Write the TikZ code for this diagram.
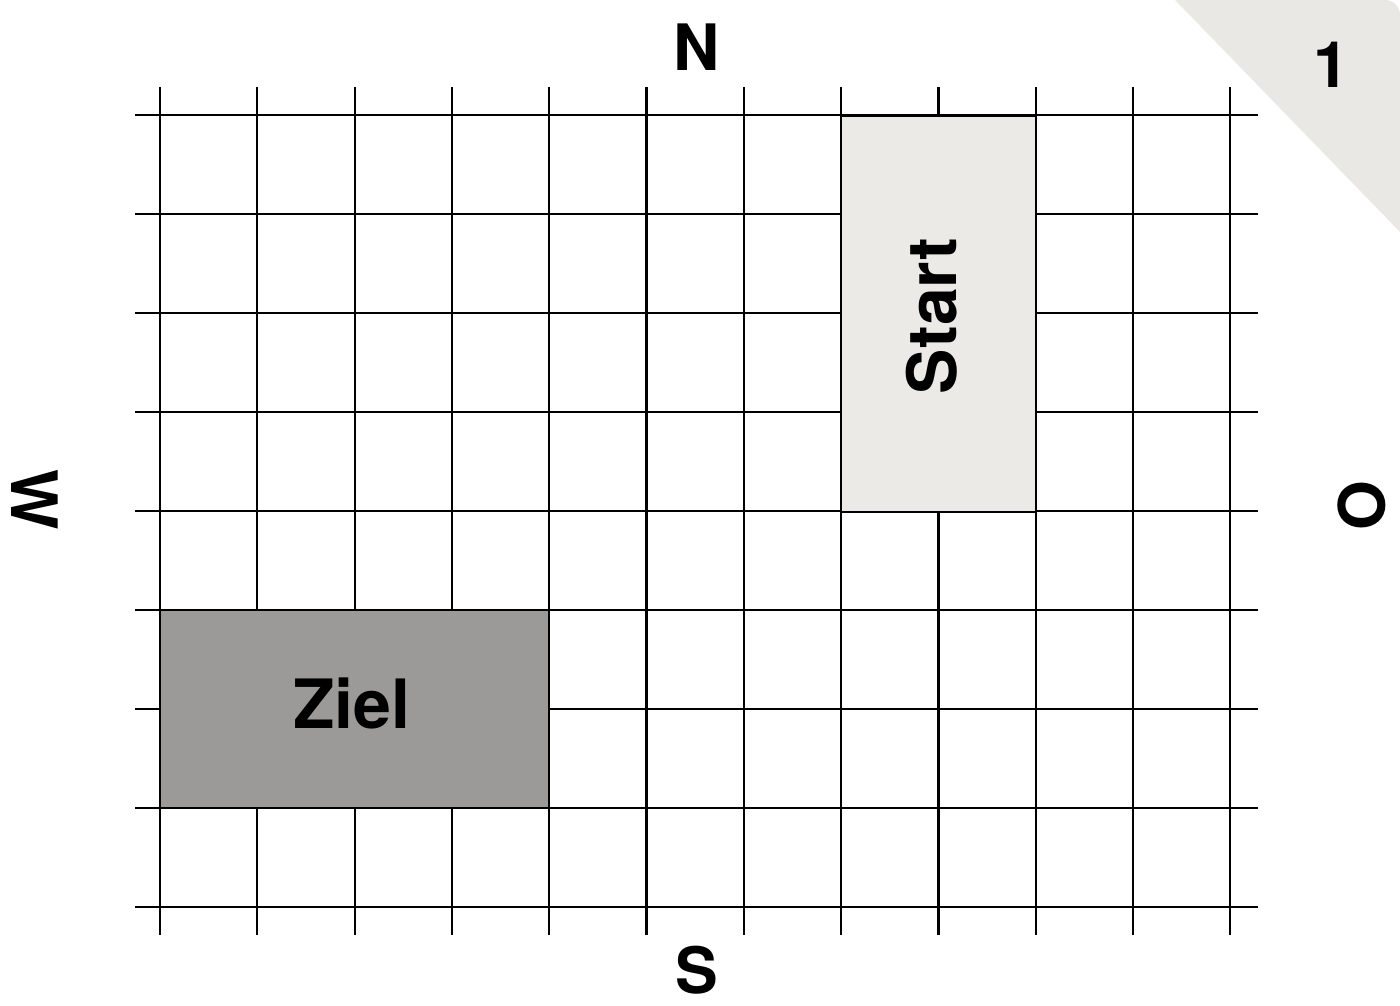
\documentclass[tikz,border=0pt]{standalone}
\usepackage{fontspec}
\setmainfont{TeX Gyre Heros}
\begin{document}
\begin{tikzpicture}[x=0.5pt,y=-0.5pt,
  gridline/.style={line width=1.1pt, black},
  lbl/.style={font=\fontsize{32}{32}\selectfont\bfseries, inner sep=0pt},
  fieldtxt/.style={font=\fontsize{34}{34}\selectfont\bfseries, inner sep=0pt},
  field/.style={draw=black, line width=1.1pt, inner sep=0pt}]
\definecolor{startgray}{HTML}{ECEAE7}
\definecolor{zielgray}{HTML}{9B9A98}
\definecolor{cornergray}{HTML}{EAE8E4}
\useasboundingbox[fill=white] (0,0) rectangle (1400,1005);
% corner tab
\fill[cornergray] (1175,0) -- (1385,0) to[out=0,in=90] (1400,15) -- (1400,232) -- cycle;
\node[lbl] (num) at (1331,65) {1};
% grid
\foreach \i in {0,...,11} {
  \draw[gridline] ({160+97.3*\i},87) -- ({160+97.3*\i},935);
}
\foreach \j in {0,...,8} {
  \draw[gridline] (135,{115+99*\j}) -- (1258,{115+99*\j});
}
% fields
\node[field, fill=startgray, minimum width=97.3pt, minimum height=198pt] (start) at (938.4,314) {};
\node[fieldtxt, rotate=90] (starttxt) at (932,316) {Start};
\node[field, fill=zielgray, minimum width=194.6pt, minimum height=99pt] (ziel) at (354.6,709) {};
\node[fieldtxt] (zieltxt) at (352,703) {Ziel};
% compass
\node[lbl] (n) at (697,47) {N};
\node[lbl] (s) at (697,970) {S};
\node[lbl, rotate=-90] (w) at (35,500) {W};
\node[lbl, rotate=-90] (o) at (1362,505) {O};
\end{tikzpicture}
\end{document}
